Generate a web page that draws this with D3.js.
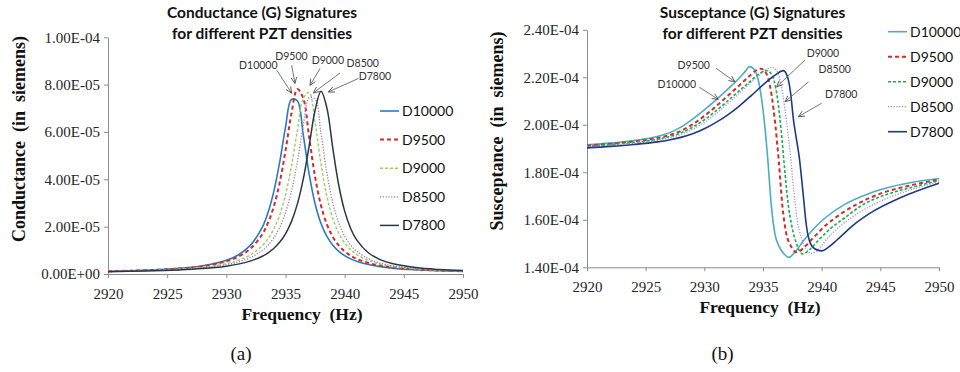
<!DOCTYPE html>
<html>
<head>
<meta charset="utf-8">
<script src="https://cdn.jsdelivr.net/npm/d3@7"></script>
<style>
  body { margin: 0; background: #fff; }
  svg { display: block; }
  .tick line, .domain { stroke: #8c8c8c; }
  .axis-title { font-family: "Liberation Serif", "Times New Roman", serif; font-weight: bold; fill: #111; white-space: pre; }
  .chart-title { font-family: Lato, sans-serif; font-weight: bold; font-size: 15.5px; fill: #111; }
  .legend text { font-family: Lato, sans-serif; font-size: 14px; fill: #111; }
  .note { font-family: Lato, sans-serif; font-size: 10.5px; fill: #333; }
  .caption { font-family: "Liberation Serif", serif; font-size: 19px; fill: #111; }
</style>
</head>
<body>
<svg id="figure" width="960" height="372"></svg>
<script>
// Series names (PZT density)
const densities = ["D10000", "D9500", "D9000", "D8500", "D7800"]

// Axis ticks
const freqTicks = [2920, 2925, 2930, 2935, 2940, 2945, 2950]
const gTicks = [0, 2e-5, 4e-5, 6e-5, 8e-5, 1e-4]
const bTicks = [1.4e-4, 1.6e-4, 1.8e-4, 2.0e-4, 2.2e-4, 2.4e-4]

// Conductance, shared frequency grid (Hz), values in 1e-6 S
const freqG = [2920, 2923, 2926, 2928, 2930, 2931, 2932, 2933, 2933.5, 2934, 2934.5, 2935, 2935.5, 2936,
  2936.5, 2937, 2937.5, 2938, 2938.5, 2939, 2939.5, 2940, 2940.5, 2941, 2942, 2943, 2944, 2946, 2948, 2950]
const gD10000 = [1.17, 1.56, 2.37, 3.47, 5.80, 8.05, 11.97, 19.39, 25.62, 34.59, 47.04, 61.97, 73.71, 73.18,
  58.75, 42.19, 29.70, 21.36, 15.86, 12.15, 9.58, 7.75, 6.40, 5.39, 3.99, 3.10, 2.50, 1.77, 1.37, 1.12]
const gD9500 = [1.16, 1.54, 2.30, 3.31, 5.37, 7.30, 10.54, 16.48, 21.35, 28.34, 38.39, 52.10, 67.69, 78.12,
  74.19, 57.69, 41.03, 28.95, 20.93, 15.64, 12.06, 9.56, 7.76, 6.43, 4.65, 3.54, 2.81, 1.95, 1.48, 1.19]
const gD9000 = [1.09, 1.42, 2.04, 2.85, 4.39, 5.77, 7.98, 11.77, 14.74, 18.90, 24.85, 33.43, 45.49, 60.61,
  74.07, 76.73, 63.91, 46.50, 32.72, 23.39, 17.25, 13.13, 10.30, 8.29, 5.71, 4.21, 3.25, 2.17, 1.60, 1.26]
const gD8500 = [1.04, 1.34, 1.90, 2.60, 3.92, 5.06, 6.84, 9.81, 12.07, 15.19, 19.57, 25.85, 34.91, 47.47,
  62.55, 74.40, 73.86, 59.30, 42.58, 29.98, 21.56, 16.00, 12.26, 9.67, 6.46, 4.64, 3.52, 2.30, 1.67, 1.30]
const gD7800 = [1.00, 1.26, 1.73, 2.30, 3.32, 4.17, 5.43, 7.41, 8.87, 10.78, 13.39, 17.00, 22.12, 29.51,
  40.07, 54.15, 69.17, 77.22, 70.10, 53.05, 37.50, 26.55, 19.33, 14.53, 8.98, 6.10, 4.43, 2.71, 1.89, 1.44]

// Susceptance, [frequency Hz, value in 1e-6 S]
const bD10000 = [[2920, 191.6], [2922, 192.3], [2924, 193.4], [2926, 195.1], [2927, 196.6], [2928, 199.0],
  [2929, 202.4], [2930, 206.3], [2931, 210.5], [2932, 215.0], [2933, 219.8], [2933.5, 222.6], [2933.85, 224.5],
  [2934.2, 223.6], [2934.5, 220.8], [2934.8, 213.5], [2935.1, 202.0], [2935.4, 186.0], [2935.7, 166.5],
  [2936.0, 154.5], [2936.4, 148.5], [2936.8, 145.6], [2937.2, 144.2], [2937.7, 146.3], [2938.5, 151.5],
  [2939.5, 157.2], [2940.5, 161.6], [2942, 166.6], [2944, 171.0], [2946, 174.0], [2948, 176.0], [2950, 177.4]]
const bD9500 = [[2920, 191.3], [2922, 192.0], [2924, 193.0], [2926, 194.4], [2927, 195.6], [2928, 197.4],
  [2929, 200.2], [2930, 203.7], [2931, 207.8], [2932, 212.2], [2933, 216.7], [2934, 221.2], [2934.45, 223.0],
  [2934.8, 223.6], [2935.15, 222.6], [2935.45, 219.5], [2935.75, 212.0], [2936.05, 200.0], [2936.35, 184.5],
  [2936.65, 166.0], [2936.95, 155.0], [2937.35, 149.2], [2937.9, 146.3], [2938.5, 148.4], [2939.3, 152.5],
  [2940.3, 157.5], [2941.5, 162.0], [2943, 166.6], [2945, 171.0], [2947.5, 174.4], [2950, 176.9]]
const bD9000 = [[2920, 191.0], [2922, 191.7], [2924, 192.6], [2926, 193.9], [2927, 195.0], [2928, 196.6],
  [2929, 199.0], [2930, 202.1], [2931, 205.9], [2932, 210.1], [2933, 214.4], [2934, 218.7], [2934.8, 221.9],
  [2935.3, 222.8], [2935.65, 221.8], [2935.95, 218.5], [2936.25, 210.5], [2936.55, 197.5], [2936.85, 181.0],
  [2937.15, 166.5], [2937.45, 157.5], [2937.85, 150.0], [2938.4, 145.6], [2939.0, 147.6], [2939.8, 151.8],
  [2940.8, 156.5], [2942, 161.0], [2943.5, 166.3], [2945.5, 170.6], [2947.5, 173.4], [2950, 176.5]]
const bD8500 = [[2920, 190.7], [2922, 191.4], [2924, 192.3], [2926, 193.5], [2927, 194.5], [2928, 195.9],
  [2929, 198.1], [2930, 201.0], [2931, 204.7], [2932, 209.0], [2933, 213.4], [2934, 217.9], [2935, 222.2],
  [2935.75, 224.2], [2936.1, 223.2], [2936.4, 220.0], [2936.7, 212.5], [2937.0, 201.5], [2937.3, 189.0],
  [2937.6, 173.5], [2937.9, 160.5], [2938.3, 152.0], [2938.7, 147.6], [2939.1, 145.8], [2939.7, 147.5],
  [2940.5, 152.3], [2941.5, 157.0], [2943, 162.5], [2945, 167.8], [2947.5, 172.5], [2950, 175.9]]
const bD7800 = [[2920, 190.3], [2922, 190.9], [2924, 191.7], [2926, 192.8], [2927, 193.6], [2928, 194.7],
  [2929, 196.2], [2930, 198.3], [2931, 201.0], [2932, 204.2], [2933, 208.0], [2934, 212.3], [2935, 216.8],
  [2936, 220.8], [2936.74, 222.8], [2937.1, 220.0], [2937.35, 213.5], [2937.6, 202.0], [2937.85, 194.0],
  [2938.1, 186.0], [2938.4, 172.0], [2938.7, 157.5], [2939.0, 150.5], [2939.4, 147.8], [2940.0, 146.9],
  [2940.5, 148.2], [2941.3, 151.5], [2942.7, 157.8], [2944.1, 162.7], [2946.9, 169.7], [2950, 175.4]]

// Callout labels: label at (f, v), arrow from (f1, v1) to (f2, v2); v in 1e-6 S
const gNotes = [
  { name: "D10000", f: 2932.7, v: 86.5, f1: 2934.26, v1: 86.1, f2: 2935.52, v2: 76.4 },
  { name: "D9500", f: 2935.5, v: 90.3, f1: 2935.52, v1: 88.2, f2: 2935.8, v2: 80.5 },
  { name: "D9000", f: 2938.58, v: 88.9, f1: 2937.92, v1: 86.8, f2: 2937.07, v2: 79.7 },
  { name: "D8500", f: 2941.53, v: 87.5, f1: 2939.6, v1: 84.9, f2: 2937.35, v2: 76.5 },
  { name: "D7800", f: 2942.56, v: 81.9, f1: 2941.15, v1: 82.6, f2: 2938.62, v2: 76.9 },
]
const bNotes = [
  { name: "D9500", f: 2929.1, v: 223.5, f1: 2931.0, v1: 223.8, f2: 2932.61, v2: 218.1 },
  { name: "D10000", f: 2927.65, v: 215.4, f1: 2929.57, v1: 215.8, f2: 2931.19, v2: 210.7 },
  { name: "D9000", f: 2940.11, v: 228.7, f1: 2938.58, v1: 227.3, f2: 2936.17, v2: 216.0 },
  { name: "D8500", f: 2941.11, v: 221.9, f1: 2938.88, v1: 218.1, f2: 2936.88, v2: 209.7 },
  { name: "D7800", f: 2941.67, v: 211.2, f1: 2940.0, v1: 209.1, f2: 2938.01, v2: 203.4 },
]

const micro = 1e-6
const sci = v => {
  const [m, e] = v.toExponential(2).split("e")
  const sign = e[0] === "-" ? "-" : "+"
  return `${m}E${sign}${e.replace(/[+-]/, "").padStart(2, "0")}`
}

const svg = d3.select("#figure")

const defs = svg.append("defs")
defs.append("marker")
    .attr("id", "arrow")
    .attr("viewBox", "0 0 8 8")
    .attr("refX", 7.5)
    .attr("refY", 4)
    .attr("markerWidth", 7)
    .attr("markerHeight", 7)
    .attr("markerUnits", "userSpaceOnUse")
    .attr("orient", "auto")
  .append("path")
    .attr("d", "M0.5,0.8 L7.5,4 L0.5,7.2")
    .attr("fill", "none")
    .attr("stroke", "#555")
    .attr("stroke-width", 1)

const panels = [
  {
    dims: { left: 108, top: 37.3, width: 355, height: 236.7 },
    yDomain: [0, 1e-4],
    yTicks: gTicks,
    title: ["Conductance (G) Signatures", "for different PZT densities"],
    titleX: 262,
    yTitle: "Conductance  (in  siemens)", yTitleX: 25, yTitleY: 139,
    xTitleX: 302,
    caption: "(a)", captionX: 241,
    series: [gD10000, gD9500, gD9000, gD8500, gD7800].map((vals, i) => ({
      name: densities[i],
      values: freqG.map((f, j) => ({ f, v: vals[j] * micro })),
    })),
    curve: d3.curveCatmullRom.alpha(0.5),
    styles: [
      { color: "#2B7BC4", dash: null, w: 1.6 },
      { color: "#D42A2A", dash: "4,3", w: 2 },
      { color: "#9BCF5A", dash: "3,2", w: 1.4 },
      { color: "#9B72CF", dash: "1.2,1.6", w: 1.3 },
      { color: "#26374A", dash: null, w: 1.5 },
    ],
    legend: { x: 380, y: 111, step: 28.6 },
    notes: gNotes,
  },
  {
    dims: { left: 587, top: 29.8, width: 352, height: 237.5 },
    yDomain: [1.4e-4, 2.4e-4],
    yTicks: bTicks,
    title: ["Susceptance (G) Signatures", "for different PZT densities"],
    titleX: 752.5,
    yTitle: "Susceptance  (in  siemens)", yTitleX: 503, yTitleY: 131,
    xTitleX: 760,
    caption: "(b)", captionX: 722.5,
    series: [bD10000, bD9500, bD9000, bD8500, bD7800].map((pairs, i) => ({
      name: densities[i],
      values: pairs.map(([f, v]) => ({ f, v: v * micro })),
    })),
    curve: d3.curveMonotoneX,
    styles: [
      { color: "#4BACC6", dash: null, w: 1.6 },
      { color: "#D42A2A", dash: "4,3", w: 2 },
      { color: "#12B050", dash: "3,2", w: 1.6 },
      { color: "#A48BD6", dash: "1.2,1.6", w: 1.3 },
      { color: "#1F3A85", dash: null, w: 1.6 },
    ],
    legend: { x: 888, y: 31.7, step: 25 },
    notes: bNotes,
  },
]

// Times-like tick labels, inline so nothing from the axis defaults wins
function styleAxis(g) {
  g.selectAll(".tick text")
      .style("font-family", "'Liberation Serif', 'Times New Roman', Times, serif")
      .style("font-size", "15px")
      .style("fill", "#262626")
}

function drawPanel(p) {
  const bounds = svg.append("g")
      .attr("transform", `translate(${p.dims.left},${p.dims.top})`)

  // Scales
  const xScale = d3.scaleLinear()
      .domain([2920, 2950])
      .range([0, p.dims.width])
  const yScale = d3.scaleLinear()
      .domain(p.yDomain)
      .range([p.dims.height, 0])

  // Axes
  bounds.append("g")
      .attr("transform", `translate(0,${p.dims.height})`)
      .call(d3.axisBottom(xScale)
          .tickValues(freqTicks)
          .tickFormat(d3.format("d"))
          .tickSize(4)
          .tickSizeOuter(0)
          .tickPadding(10))
      .call(styleAxis)
  bounds.append("g")
      .call(d3.axisLeft(yScale)
          .tickValues(p.yTicks)
          .tickFormat(sci)
          .tickSize(4)
          .tickSizeOuter(0)
          .tickPadding(4))
      .call(styleAxis)

  // Lines
  const lineGenerator = d3.line()
      .x(d => xScale(d.f))
      .y(d => yScale(d.v))
      .curve(p.curve)
  p.series.forEach((s, i) => {
    const st = p.styles[i]
    bounds.append("path")
        .attr("d", lineGenerator(s.values))
        .attr("fill", "none")
        .attr("stroke", st.color)
        .attr("stroke-width", st.w)
        .attr("stroke-dasharray", st.dash)
  })

  // Callouts
  p.notes.forEach(n => {
    bounds.append("line")
        .attr("x1", xScale(n.f1)).attr("y1", yScale(n.v1 * micro))
        .attr("x2", xScale(n.f2)).attr("y2", yScale(n.v2 * micro))
        .attr("stroke", "#666")
        .attr("stroke-width", 0.9)
        .attr("marker-end", "url(#arrow)")
    bounds.append("text")
        .attr("class", "note")
        .attr("x", xScale(n.f))
        .attr("y", yScale(n.v * micro))
        .attr("text-anchor", "middle")
        .text(n.name)
  })

  // Legend
  const legend = svg.append("g").attr("class", "legend")
  p.series.forEach((s, i) => {
    const st = p.styles[i]
    const y = p.legend.y + i * p.legend.step
    legend.append("line")
        .attr("x1", p.legend.x).attr("x2", p.legend.x + 19)
        .attr("y1", y).attr("y2", y)
        .attr("stroke", st.color)
        .attr("stroke-width", st.w)
        .attr("stroke-dasharray", st.dash)
    legend.append("text")
        .attr("x", p.legend.x + 22)
        .attr("y", y)
        .attr("dy", "0.36em")
        .text(s.name)
  })

  // Titles
  p.title.forEach((t, i) => {
    svg.append("text")
        .attr("class", "chart-title")
        .attr("x", p.titleX)
        .attr("y", 18 + i * 20.5)
        .attr("text-anchor", "middle")
        .text(t)
  })
  svg.append("text")
      .attr("class", "axis-title")
      .attr("transform", `translate(${p.yTitleX},${p.yTitleY}) rotate(-90)`)
      .attr("text-anchor", "middle")
      .style("font-size", "18px")
      .text(p.yTitle)
  svg.append("text")
      .attr("class", "axis-title")
      .attr("x", p.xTitleX)
      .attr("y", p.dims.top + p.dims.height + 46)
      .attr("text-anchor", "middle")
      .style("font-size", "17.5px")
      .text("Frequency  (Hz)")
  svg.append("text")
      .attr("class", "caption")
      .attr("x", p.captionX)
      .attr("y", 360)
      .attr("text-anchor", "middle")
      .text(p.caption)
}

panels.forEach(drawPanel)
</script>
</body>
</html>
